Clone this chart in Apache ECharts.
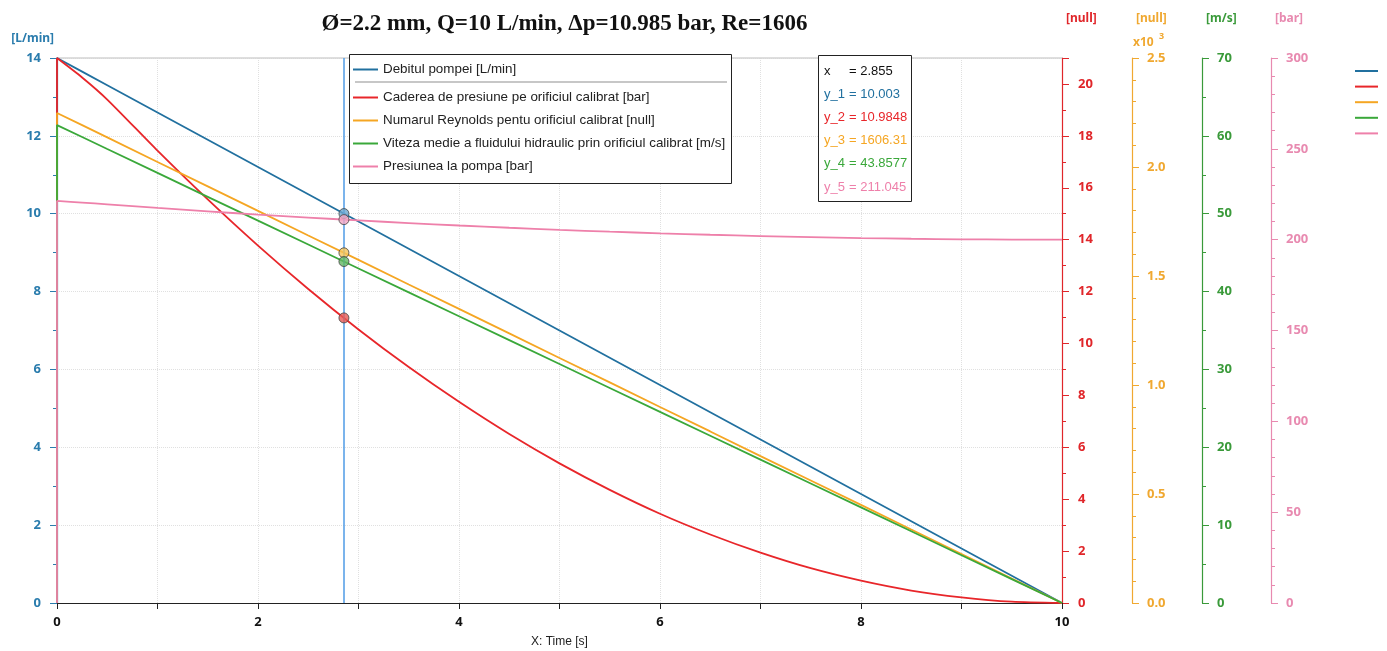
<!DOCTYPE html>
<html><head><meta charset="utf-8">
<script src="https://cdn.jsdelivr.net/npm/echarts@6/dist/echarts.min.js"></script>
<style>html,body{margin:0;padding:0;background:#fff}#c{width:1387px;height:651px}</style>
</head><body><div id="c"></div>
<script>
// ---- data ----
const seriesNames = [
  'Debitul pompei [L/min]',
  'Caderea de presiune pe orificiul calibrat [bar]',
  'Numarul Reynolds pentu orificiul calibrat [null]',
  'Viteza medie a fluidului hidraulic prin orificiul calibrat [m/s]',
  'Presiunea la pompa [bar]'
];
const time = [0, 0, 0.25, 0.5, 1, 1.5, 2, 2.5, 3, 3.5, 4, 4.5, 5, 5.5, 6, 6.5, 7, 7.5, 8, 8.5, 9, 9.5, 10];
const flow = [0, 14, 13.65, 13.3, 12.6, 11.9, 11.2, 10.5, 9.8, 9.1, 8.4, 7.7, 7.0, 6.3, 5.6, 4.9, 4.2, 3.5, 2.8, 2.1, 1.4, 0.7, 0];
const dropP = [0, 21.0, 20.25, 19.4, 17.43, 15.55, 13.77, 12.10, 10.54, 9.09, 7.75, 6.51, 5.38, 4.36, 3.44, 2.64, 1.94, 1.34, 0.86, 0.48, 0.22, 0.05, 0];
const reynolds = [0, 2248, 2192, 2136, 2023, 1911, 1799, 1686, 1574, 1461, 1349, 1237, 1124, 1012, 899, 787, 674, 562, 450, 337, 225, 112, 0];
const velocity = [0, 61.38, 59.85, 58.31, 55.24, 52.17, 49.11, 46.04, 42.97, 39.90, 36.83, 33.76, 30.69, 27.62, 24.55, 21.48, 18.41, 15.35, 12.28, 9.21, 6.14, 3.07, 0];
const pumpP = [0, 221.3, 220.4, 219.45, 217.47, 215.6, 213.8, 212.15, 210.6, 209.15, 207.8, 206.55, 205.4, 204.4, 203.5, 202.7, 202.0, 201.4, 200.9, 200.5, 200.2, 200.05, 200.0];
const cursorX = 2.855;
const cursorVals = [10.003, 10.9848, 1606.31, 43.8577, 211.045];
const readoutLabels = ['x', 'y_1', 'y_2', 'y_3', 'y_4', 'y_5'];
const readoutValues = ['2.855', '10.003', '10.9848', '1606.31', '43.8577', '211.045'];
const axisNames = ['[L/min]', '[null]', '[null]', '[m/s]', '[bar]'];
const titleText = 'Ø=2.2 mm, Q=10 L/min, Δp=10.985 bar, Re=1606';
const xName = 'X: Time [s]';

// ---- styles ----
const lineCol = ['#21709f', '#e8262a', '#f5a623', '#3aa83a', '#ee80aa'];
const lblCol  = ['#2a7cad', '#e0262a', '#f0a830', '#3a9a3a', '#e88ab0'];
const markCol = ['#6aa6cf', '#e85a55', '#f6c459', '#63b863', '#f3a5c3'];
const FF = 'Liberation Sans';
const NF = 'Noto Sans';

const allY = [flow, dropP, reynolds, velocity, pumpP];
const lineSeries = allY.map((arr, i) => ({
  name: seriesNames[i], type: 'line', yAxisIndex: i, symbol: 'none',
  smooth: (i === 1 || i === 4) ? 0.25 : false,
  data: time.map((t, k) => [t, arr[k]]),
  lineStyle: { color: lineCol[i], width: 1.8 }, itemStyle: { color: lineCol[i] },
  z: 2, animation: false,
  markLine: i === 0 ? { symbol: 'none', silent: true, label: { show: false },
    lineStyle: { color: '#4f9be6', width: 1.5, type: 'solid' },
    data: [{ xAxis: cursorX }] } : undefined
}));
const markSeries = cursorVals.map((v, i) => ({
  type: 'scatter', yAxisIndex: i, symbol: 'circle', symbolSize: 10,
  data: [[cursorX, v]], z: 6, animation: false, silent: true,
  itemStyle: { color: markCol[i], borderColor: '#444', borderWidth: 1 }
}));

function yAx(i, o) {
  return Object.assign({
    type: 'value', min: 0, position: 'right', name: axisNames[i], nameLocation: 'end', nameGap: 33,
    nameTextStyle: { color: lblCol[i], fontWeight: 'bold', fontSize: 12, fontFamily: NF, align: 'left', padding: [0, 0, 0, 4] },
    axisLine: { show: true, onZero: false, lineStyle: { color: lblCol[i], width: 1.2 } },
    axisTick: { show: true, length: 7, lineStyle: { color: lblCol[i] } },
    minorTick: { show: true, length: 4, lineStyle: { color: lblCol[i] } },
    axisLabel: { color: lblCol[i], fontWeight: 'bold', fontSize: 13, fontFamily: NF, margin: 15 },
    splitLine: { show: false }
  }, o);
}

const yAxes = [
  yAx(0, { position: 'left', max: 14, interval: 2, nameGap: 13,
    nameTextStyle: { color: lblCol[0], fontWeight: 'bold', fontSize: 12, fontFamily: NF, align: 'right', padding: [0, 3, 0, 0] },
    axisLabel: { color: lblCol[0], fontWeight: 'bold', fontSize: 13, fontFamily: NF, margin: 16 },
    minorTick: { show: true, splitNumber: 2, length: 4, lineStyle: { color: lblCol[0] } },
    splitLine: { show: true, lineStyle: { color: '#e0e0e0', type: 'dotted' } } }),
  yAx(1, { max: 21, interval: 2, offset: 0,
    minorTick: { show: true, splitNumber: 2, length: 4, lineStyle: { color: lblCol[1] } },
    axisLabel: { color: lblCol[1], fontWeight: 'bold', fontSize: 13, fontFamily: NF, margin: 16,
      formatter: v => (v % 2 === 0 ? String(v) : '') } }),
  yAx(2, { max: 2500, interval: 500, offset: 70,
    minorTick: { show: true, splitNumber: 5, length: 4, lineStyle: { color: lblCol[2] } },
    axisLabel: { color: lblCol[2], fontWeight: 'bold', fontSize: 13, fontFamily: NF, margin: 15,
      formatter: v => (v / 1000).toFixed(1) } }),
  yAx(3, { max: 70, interval: 10, offset: 140,
    minorTick: { show: true, splitNumber: 2, length: 4, lineStyle: { color: lblCol[3] } } }),
  yAx(4, { max: 300, interval: 50, offset: 209,
    minorTick: { show: true, splitNumber: 5, length: 4, lineStyle: { color: lblCol[4] } } })
];

const rowsY = [71, 94.2, 117.4, 140.6, 163.8, 187];
const readoutCol = ['#111', lineCol[0], lineCol[1], lineCol[2], lineCol[3], lineCol[4]];
const graphics = [
  { type: 'rect', left: 349, top: 54, shape: { width: 382, height: 129 }, z: 3,
    style: { fill: '#fff', stroke: '#222', lineWidth: 1 } },
  { type: 'line', shape: { x1: 355, y1: 82, x2: 727, y2: 82 }, z: 4, style: { stroke: '#b4b4b4', lineWidth: 1.5 } },
  { type: 'rect', left: 818, top: 55, shape: { width: 93, height: 146 }, z: 3,
    style: { fill: '#fff', stroke: '#222', lineWidth: 1 } },
  { type: 'text', x: 1133, y: 43, z: 5, style: { text: 'x10', fill: lblCol[2], font: 'bold 12px "Noto Sans"', verticalAlign: 'middle' } },
  { type: 'text', x: 1159, y: 36, z: 5, style: { text: '3', fill: lblCol[2], font: 'bold 9px "Noto Sans"', verticalAlign: 'middle' } }
];
readoutLabels.forEach((lab, i) => {
  graphics.push({ type: 'text', x: 824, y: rowsY[i], z: 5,
    style: { text: lab, fill: readoutCol[i], font: '13px "Liberation Sans"', verticalAlign: 'middle' } });
  graphics.push({ type: 'text', x: 849, y: rowsY[i], z: 5,
    style: { text: '= ' + readoutValues[i], fill: readoutCol[i], font: '13px "Liberation Sans"', verticalAlign: 'middle' } });
});

const legendText = { fontSize: 13.4, color: '#222', fontFamily: FF };
const option = {
  backgroundColor: '#fff',
  animation: false,
  title: { text: titleText, left: 559.5, top: 8, textAlign: 'center',
    textStyle: { fontFamily: 'Liberation Serif', fontWeight: 'bold', fontSize: 23, color: '#111' } },
  grid: { left: 57, right: 325, top: 58, bottom: 48, containLabel: false, outerBoundsMode: 'none' },
  legend: [
    { data: [seriesNames[0]], orient: 'vertical', left: 352, top: 63, padding: 0, itemWidth: 25, itemHeight: 14,
      itemStyle: { opacity: 0 }, textStyle: legendText, z: 5, selectedMode: false },
    { data: seriesNames.slice(1), orient: 'vertical', left: 352, top: 91, padding: 0, itemWidth: 25, itemHeight: 14,
      itemStyle: { opacity: 0 }, itemGap: 10, textStyle: legendText, z: 5, selectedMode: false },
    { data: seriesNames, orient: 'vertical', left: 1354, top: 66, padding: 0, itemWidth: 23, itemHeight: 10,
      itemStyle: { opacity: 0 }, itemGap: 6.6, formatter: () => '', textStyle: { fontSize: 8 }, selectedMode: false }
  ],
  xAxis: [
    { type: 'value', min: 0, max: 10, interval: 1, name: xName, nameLocation: 'middle', nameGap: 33,
      nameTextStyle: { color: '#222', fontSize: 12, fontFamily: FF },
      axisLine: { show: true, onZero: false, lineStyle: { color: '#222', width: 1.2 } },
      axisTick: { show: true, length: 6, lineStyle: { color: '#222' } },
      axisLabel: { color: '#111', fontWeight: 'bold', fontSize: 13, fontFamily: NF, margin: 13,
        formatter: v => (v % 2 === 0 ? String(v) : '') },
      splitLine: { show: true, lineStyle: { color: '#e0e0e0', type: 'dotted' } } },
    { type: 'value', min: 0, max: 10, position: 'top',
      axisLine: { show: true, onZero: false, lineStyle: { color: '#d4d4d4', width: 1.5 } },
      axisTick: { show: false }, axisLabel: { show: false }, splitLine: { show: false } }
  ],
  yAxis: yAxes,
  series: lineSeries.concat(markSeries),
  graphic: graphics
};
const chart = echarts.init(document.getElementById('c'), null, { renderer: 'canvas' });
chart.setOption(option);
</script></body></html>
